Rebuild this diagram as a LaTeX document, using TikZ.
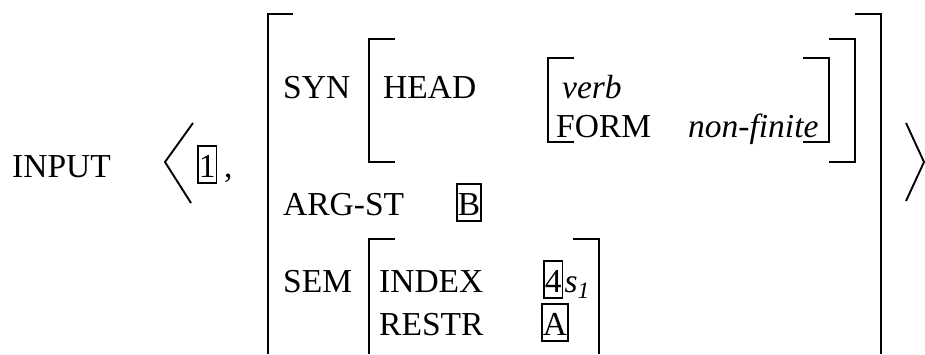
\documentclass[tikz,border=0pt]{standalone}
\usepackage{fontspec}
\setmainfont{Liberation Serif}
\usepackage{tikz}

\begin{document}
\begin{tikzpicture}[x=1pt,y=-1pt,
    every node/.style={font=\fontsize{33.5}{40}\selectfont, inner sep=0pt, anchor=base west},
    tag/.style={draw, line width=1.6pt, inner xsep=1pt, inner ysep=1pt, text height=30pt, text depth=5pt},
    brk/.style={line width=1.9pt}]
    \useasboundingbox (0,0) rectangle (925,354);
    % left part
    \node (input) at (12,177) {INPUT};
    \node[tag] (tagone) at (197,177) {1};
    \node (comma) at (224,177) {,};
    % SYN
    \node (syn) at (283,98) {SYN};
    \node (head) at (383,98) {HEAD};
    \node (verb) at (562,98) {\textit{verb}};
    \node (form) at (556,137) {FORM};
    \node (nonfinite) at (688,137) {\textit{non-finite}};
    % ARG-ST
    \node (argst) at (283,215) {ARG-ST};
    \node[tag] (tagB) at (456,215) {B};
    % SEM
    \node (sem) at (283,292) {SEM};
    \node (index) at (379,292) {INDEX};
    \node[tag] (tagfour) at (543,292) {4};
    \node (sone) at ([xshift=1pt]tagfour.base east) {\textit{s}\textsubscript{\textit{1}}};
    \node (restr) at (379,335) {RESTR};
    \node[tag] (tagA) at (541,335) {A};
    % angle brackets
    \draw[brk] (193,123) -- (165,162) -- (191,203);
    \draw[brk] (906,123) -- (924,162) -- (906,201);
    % outer brackets
    \draw[brk] (293,14) -- (268,14) -- (268,354);
    \draw[brk] (855,14) -- (881,14) -- (881,354);
    % SYN brackets
    \draw[brk] (395,39) -- (369,39) -- (369,162) -- (395,162);
    \draw[brk] (829,39) -- (855,39) -- (855,162) -- (829,162);
    \draw[brk] (574,58) -- (548,58) -- (548,142) -- (574,142);
    \draw[brk] (803,58) -- (829,58) -- (829,142) -- (803,142);
    % SEM brackets
    \draw[brk] (395,239) -- (369,239) -- (369,354);
    \draw[brk] (573,239) -- (599,239) -- (599,354);
\end{tikzpicture}
\end{document}
